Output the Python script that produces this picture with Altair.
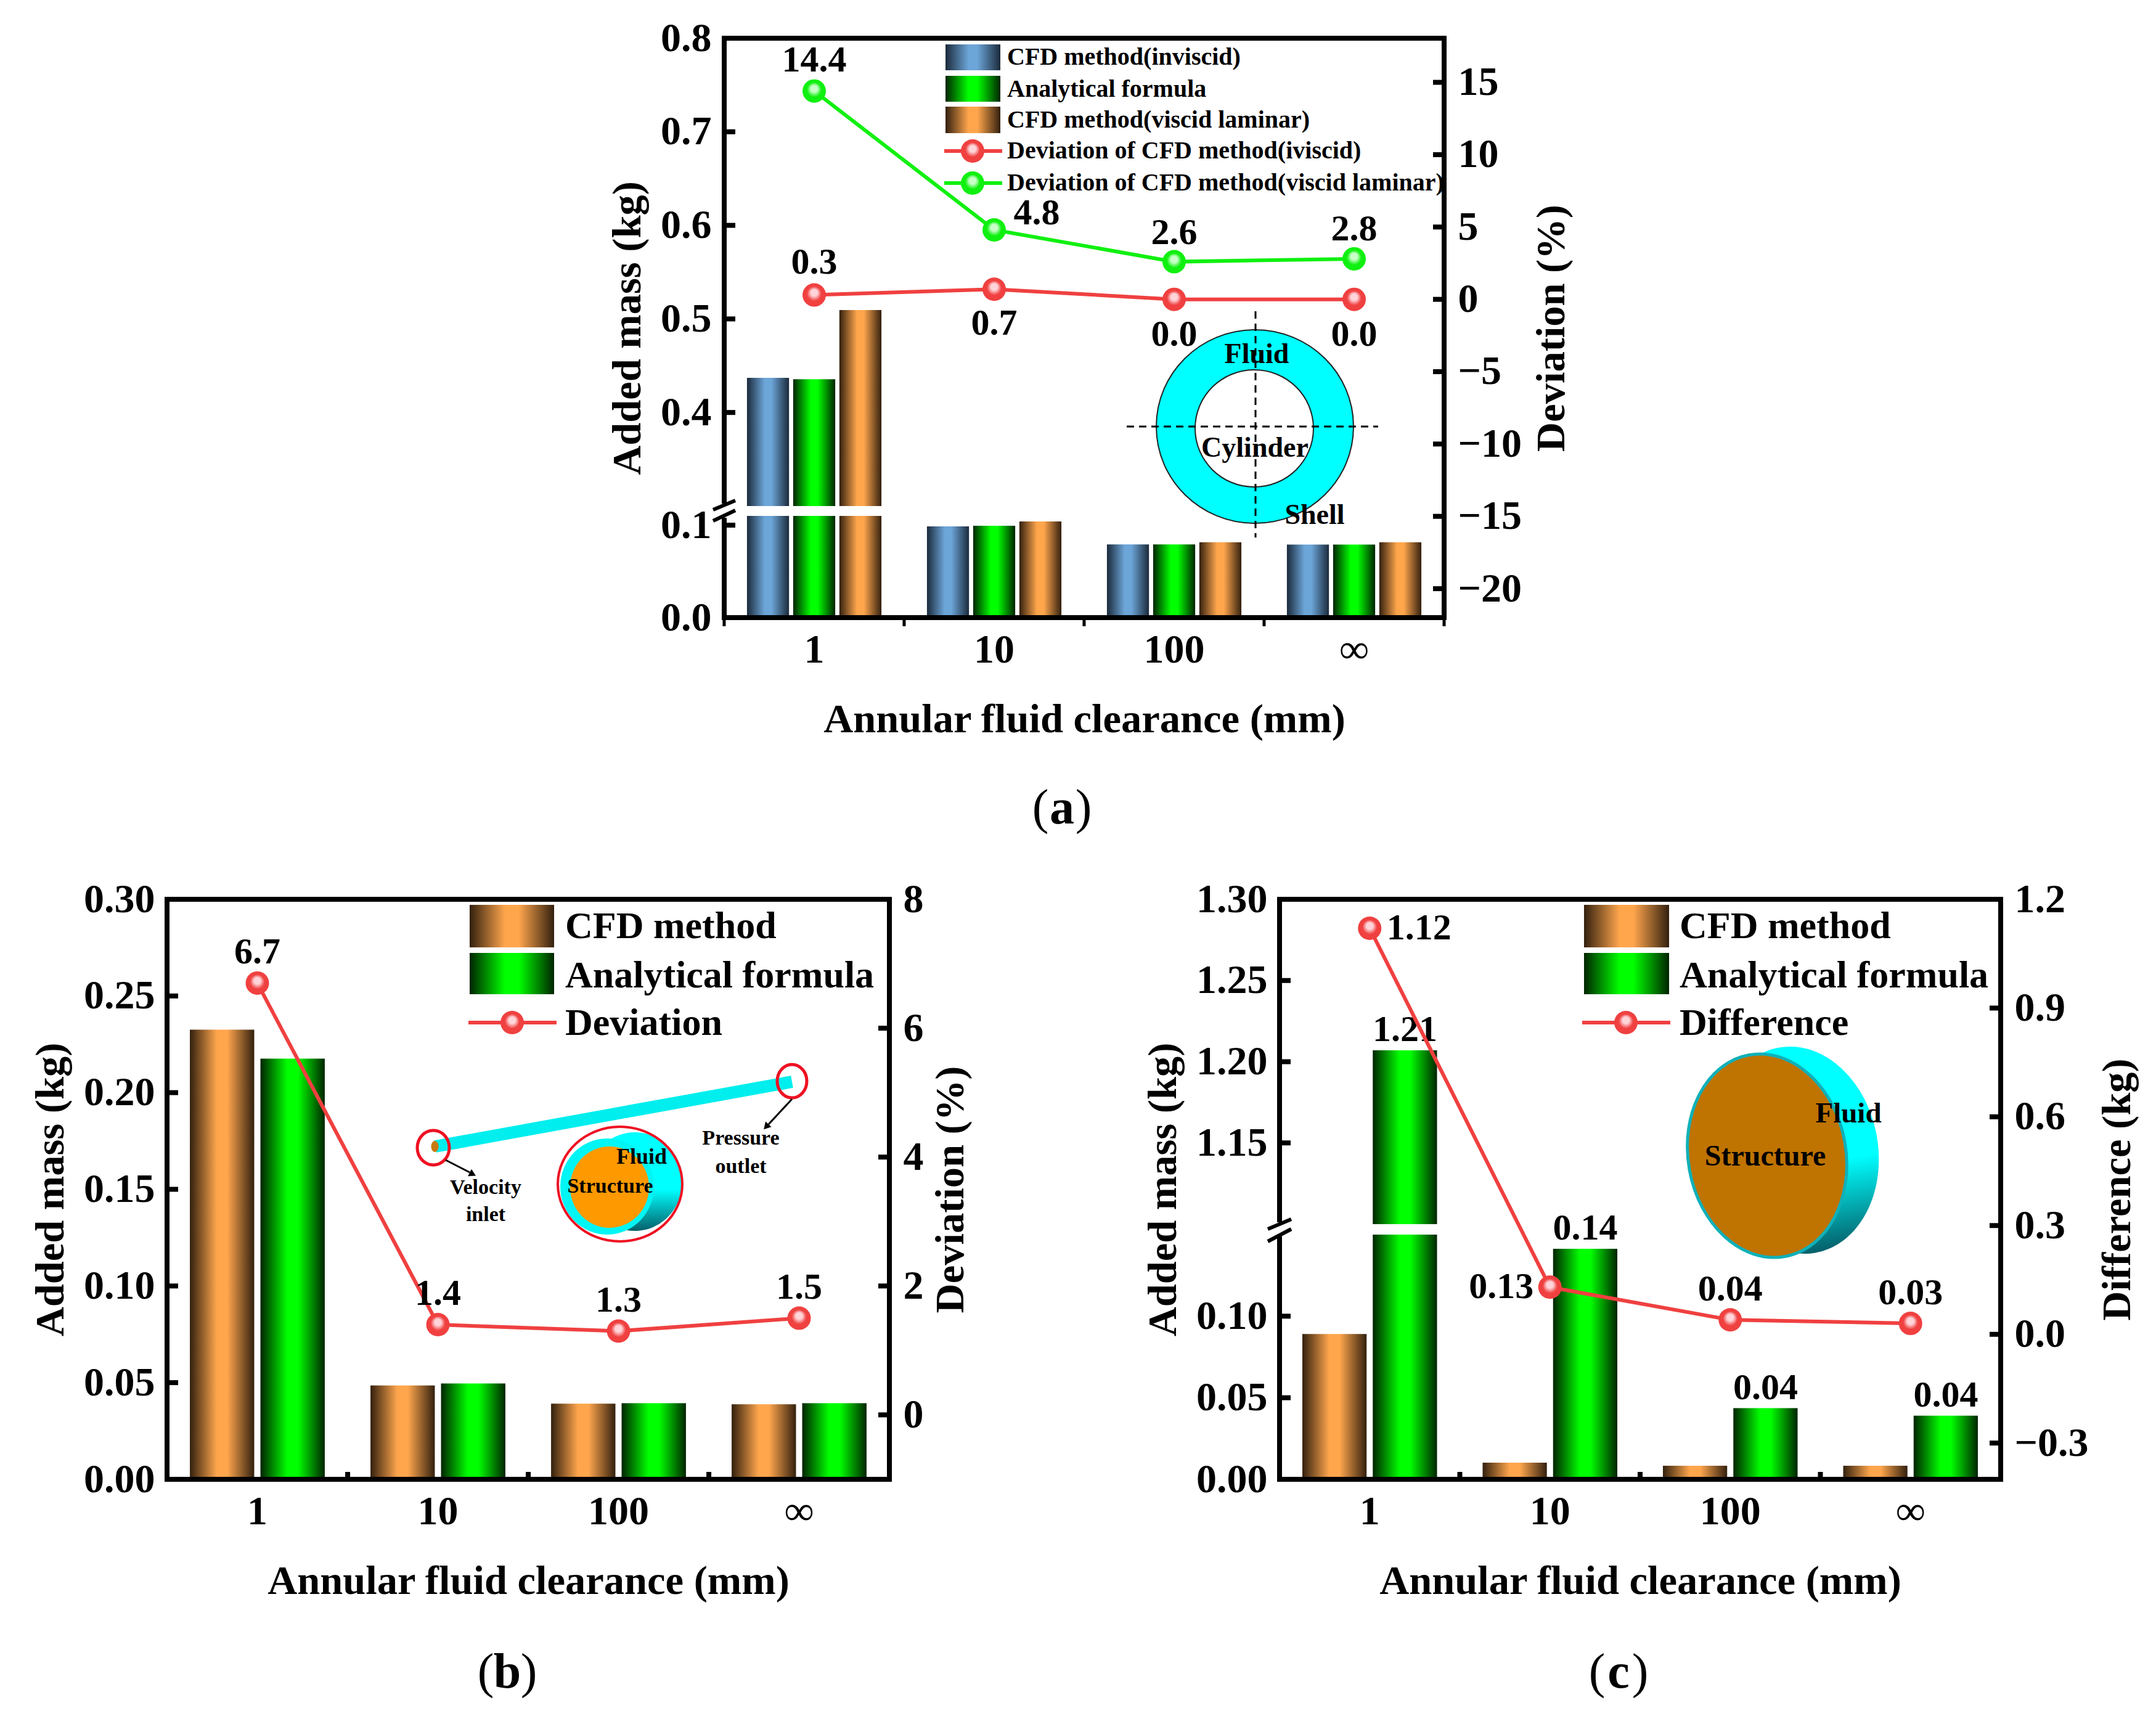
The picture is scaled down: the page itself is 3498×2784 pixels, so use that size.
import altair as alt
import pandas as pd

# ---------- data ----------
CATS = ["1", "10", "100", "∞"]
A_INVISCID = [0.437, 0.0987, 0.0792, 0.079]
A_ANALYTIC = [0.4355, 0.0993, 0.0792, 0.079]
A_VISCOUS = [0.5095, 0.104, 0.0815, 0.0815]
A_DEV_INV = [0.3, 0.7, 0.0, 0.0]
A_DEV_VIS = [14.4, 4.8, 2.6, 2.8]
B_CFD = [0.2326, 0.0485, 0.0391, 0.0388]
B_ANALYTIC = [0.2176, 0.0496, 0.0394, 0.0394]
B_DEV = [6.7, 1.4, 1.3, 1.5]
C_CFD = [0.0891, 0.0102, 0.0083, 0.0083]
C_ANALYTIC = [1.207, 0.1413, 0.0436, 0.039]
C_DIFF = [1.12, 0.13, 0.04, 0.03]
C_BAR_LABELS = ["1.21", "0.14", "0.04", "0.04"]

FONT = "Liberation Serif"
XTITLE = "Annular fluid clearance (mm)"
RED = "#F04040"
GREEN = "#10F010"
ONE = [{"k": 0}]


def hgrad(dark, peak):
    return {"gradient": "linear", "x1": 0, "x2": 1, "y1": 0, "y2": 0,
            "stops": [{"offset": 0, "color": dark}, {"offset": 0.42, "color": peak},
                      {"offset": 0.58, "color": peak}, {"offset": 1, "color": dark}]}


BLUE_G = hgrad("#1B2A3B", "#6CA5D8")
GREEN_G = hgrad("#002400", "#00FF00")
ORANGE_G = hgrad("#33200E", "#FFA64D")


def ball(light, mid):
    return {"gradient": "radial", "x1": 0.5, "y1": 0.36, "x2": 0.5, "y2": 0.5, "r1": 0, "r2": 0.5,
            "stops": [{"offset": 0, "color": light}, {"offset": 0.28, "color": light},
                      {"offset": 0.62, "color": mid}, {"offset": 1, "color": mid}]}


RED_B = ball("#FFD5DA", RED)
GREEN_B = ball("#C8FFC8", GREEN)
DISC_G = {"gradient": "linear", "x1": 0, "x2": 0, "y1": 0, "y2": 1,
          "stops": [{"offset": 0, "color": "#00FFFF"}, {"offset": 0.58, "color": "#00FFFF"},
                    {"offset": 1, "color": "#05606A"}]}


def ellipse_symbol(rx, ry):
    s = max(rx, ry)
    a, b = rx / s, ry / s
    path = f"M{-a:.4f},0A{a:.4f},{b:.4f} 0 1 1 {a:.4f},0A{a:.4f},{b:.4f} 0 1 1 {-a:.4f},0Z"
    return path, (2 * s) ** 2


class P:
    """Helpers for decorations inside one panel, given in page pixels."""

    def __init__(self, ox, oy):
        self.ox, self.oy = ox, oy

    def text(self, s, x, y, size, weight="bold", color="black"):
        return alt.Chart(alt.Data(values=ONE)).mark_text(
            text=s, font=FONT, fontSize=size, fontWeight=weight, color=color,
            align="center", baseline="middle"
        ).encode(x=alt.value(x - self.ox), y=alt.value(y - self.oy))

    def ltext(self, s, x, y, size):
        return alt.Chart(alt.Data(values=ONE)).mark_text(
            text=s, font=FONT, fontSize=size, fontWeight="bold", color="black",
            align="left", baseline="middle"
        ).encode(x=alt.value(x - self.ox), y=alt.value(y - self.oy))

    def rect(self, x0, x1, y0, y1, fill):
        return alt.Chart(alt.Data(values=ONE)).mark_rect(fill=fill, stroke=None).encode(
            x=alt.value(x0 - self.ox), x2=alt.value(x1 - self.ox),
            y=alt.value(y0 - self.oy), y2=alt.value(y1 - self.oy))

    def seg(self, x0, y0, x1, y1, color="black", width=3, dash=None, cap="butt"):
        kw = {"strokeDash": dash} if dash else {}
        return alt.Chart(alt.Data(values=ONE)).mark_rule(
            color=color, strokeWidth=width, strokeCap=cap, **kw).encode(
            x=alt.value(x0 - self.ox), x2=alt.value(x1 - self.ox),
            y=alt.value(y0 - self.oy), y2=alt.value(y1 - self.oy))

    def ellipse(self, cx, cy, rx, ry, fill=None, stroke=None, sw=0, angle=0):
        path, size = ellipse_symbol(rx, ry)
        kw = {}
        if fill is not None:
            kw["fill"] = fill
        if stroke is not None:
            kw["stroke"] = stroke
            kw["strokeWidth"] = sw
        return alt.Chart(alt.Data(values=ONE)).mark_point(
            shape=path, size=size, filled=fill is not None, opacity=1, angle=angle, **kw
        ).encode(x=alt.value(cx - self.ox), y=alt.value(cy - self.oy))

    def marker(self, cx, cy, fill, size=1444):
        return alt.Chart(alt.Data(values=ONE)).mark_point(
            shape="circle", size=size, filled=True, fill=fill, opacity=1, stroke=None
        ).encode(x=alt.value(cx - self.ox), y=alt.value(cy - self.oy))

    def head(self, cx, cy, angle, size=170):
        return alt.Chart(alt.Data(values=ONE)).mark_point(
            shape="triangle-up", size=size, filled=True, fill="black", opacity=1, angle=angle, stroke=None
        ).encode(x=alt.value(cx - self.ox), y=alt.value(cy - self.oy))

    def caption(self, letter, cx, cy):
        return [self.text("(", cx - 35, cy, 80, "normal"), self.text(letter, cx, cy, 80, "bold"),
                self.text(")", cx + 35, cy, 80, "normal")]


def xenc(**kw):
    return alt.X("cat:N", scale=alt.Scale(domain=CATS, paddingInner=0.253, paddingOuter=0.1265),
                 title=XTITLE,
                 axis=alt.Axis(labelAngle=0, domain=False, ticks=False, labelPadding=20,
                               titleBaseline="middle", titleY=165, titleAlign="center"), **kw)


def bars(values, series, order, grad, yscale, yaxis, padding):
    df = pd.DataFrame({"cat": CATS, "v": values, "s": series})
    return alt.Chart(df).mark_bar(fill=grad, stroke=None).encode(
        x=xenc(),
        xOffset=alt.XOffset("s:N", scale=alt.Scale(domain=order, paddingInner=padding)),
        y=alt.Y("v:Q", scale=yscale, axis=yaxis, stack=None,
                title=None if yaxis is None else "Added mass (kg)"),
    )


def inner_ticks(vals, scale, x0, x1):
    return alt.Chart(pd.DataFrame({"v": vals})).mark_rule(color="black", strokeWidth=8).encode(
        y=alt.Y("v:Q", scale=scale, axis=None), x=alt.value(x0), x2=alt.value(x1))


def gap_patch(scale, lo, hi, x0, x1):
    return alt.Chart(pd.DataFrame({"lo": [lo], "hi": [hi]})).mark_rect(fill="white", stroke=None).encode(
        y=alt.Y("lo:Q", scale=scale, axis=None), y2="hi:Q", x=alt.value(x0), x2=alt.value(x1))


def dev_line(values, color, fill, scale, axis=None, title=None):
    df = pd.DataFrame({"cat": CATS, "v": values})
    line = alt.Chart(df).mark_line(color=color, strokeWidth=6).encode(
        x=xenc(), y=alt.Y("v:Q", scale=scale, axis=axis, title=title))
    pts = alt.Chart(df).mark_point(shape="circle", size=1444, filled=True, fill=fill, opacity=1, stroke=None).encode(
        x=xenc(), y=alt.Y("v:Q", scale=scale, axis=None))
    return [line, pts]


def point_labels(values, labels, scale, offsets, size=60):
    out = []
    for i, (v, lab, (dx, dy)) in enumerate(zip(values, labels, offsets)):
        df = pd.DataFrame({"cat": [CATS[i]], "v": [v], "t": [lab]})
        out.append(alt.Chart(df).mark_text(
            font=FONT, fontSize=size, fontWeight="bold", color="black", dx=dx, dy=dy,
            align="center", baseline="middle"
        ).encode(x=xenc(), y=alt.Y("v:Q", scale=scale, axis=None), text="t:N"))
    return out


def edge_marks(cats, y0, y1, width):
    # boundary between two categories: start of the band less half the gap between bands
    return alt.Chart(pd.DataFrame({"cat": cats})).mark_rule(color="black", strokeWidth=width).encode(
        x=xenc(bandPosition=0), xOffset=alt.value(-37), y=alt.value(y0), y2=alt.value(y1))


def yaxis_left(vals, fmt, tx, pad=20):
    return alt.Axis(values=vals, format=fmt, ticks=False, domain=False, grid=False, labelPadding=pad,
                    titleAngle=270, titleX=tx, titleBaseline="middle", titleAlign="center")


def yaxis_right(vals, fmt, tx, title):
    return alt.Axis(orient="right", values=vals, format=fmt, ticks=False, domain=False, grid=False,
                    labelPadding=22, titleAngle=270, titleX=tx, titleBaseline="middle", titleAlign="center",
                    title=title)


def finish(parts, w, h):
    return alt.layer(*parts).resolve_scale(y="independent").properties(width=w, height=h)


# ---------- panel a ----------
OXA, OYA, WA, HA = 1175, 62, 1168, 940
pa = P(OXA, OYA)
ya = alt.Scale(domain=[0, 0.11, 0.3, 0.8], range=[HA, 775, 759, 0], nice=False, zero=False)
ra = alt.Scale(domain=[-22.0, 18.05], range=[HA, 0], nice=False, zero=False)
oa = ["inv", "ana", "vis"]
a_parts = [
    bars(A_INVISCID, "inv", oa, BLUE_G, ya, yaxis_left([0, 0.1, 0.4, 0.5, 0.6, 0.7, 0.8], ".1f", -157, 21), 0.09),
    bars(A_ANALYTIC, "ana", oa, GREEN_G, ya, None, 0.09),
    bars(A_VISCOUS, "vis", oa, ORANGE_G, ya, None, 0.09),
    gap_patch(ya, 0.11, 0.3, 10, WA - 10),
    pa.seg(OXA, OYA + HA, OXA + WA, OYA + HA, width=8),
    edge_marks(CATS, HA, HA + 14, 5),
    pa.seg(OXA + WA, OYA + HA, OXA + WA, OYA + HA + 14, width=5),
    inner_ticks([0.1, 0.4, 0.5, 0.6, 0.7], ya, 0, 18),
    *dev_line(A_DEV_INV, RED, RED_B, ra, yaxis_right([-20, -15, -10, -5, 0, 5, 10, 15], "d", 174, "Deviation (%)")),
    *dev_line(A_DEV_VIS, GREEN, GREEN_B, ra),
    inner_ticks([-20, -15, -10, -5, 0, 5, 10, 15], ra, WA - 18, WA),
    *point_labels(A_DEV_INV, ["0.3", "0.7", "0.0", "0.0"], ra, [(0, -53), (0, 56), (0, 57), (0, 57)]),
    *point_labels(A_DEV_VIS, ["14.4", "4.8", "2.6", "2.8"], ra, [(0, -50), (69, -27), (0, -47), (0, -48)]),
    pa.rect(OXA - 7, OXA + 7, 817, 840, "white"),
    pa.seg(1157, 827, 1193, 812, width=6),
    pa.seg(1157, 845, 1193, 828, width=6),
    pa.ellipse(2036, 692, 160, 157, fill="#00FFFF", stroke="#222222", sw=2),
    pa.ellipse(2035, 695, 96, 95, fill="white", stroke="#222222", sw=2),
    pa.seg(2037, 505, 2037, 872, width=3, dash=[12, 8]),
    pa.seg(1828, 692, 2236, 692, width=3, dash=[12, 8]),
    pa.text("Fluid", 2039, 575, 46),
    pa.text("Cylinder", 2036, 727, 46),
    pa.text("Shell", 2133, 836, 46),
    pa.rect(1534, 1623, 72, 114, BLUE_G),
    pa.rect(1534, 1623, 123, 165, GREEN_G),
    pa.rect(1534, 1623, 173, 216, ORANGE_G),
    pa.seg(1532, 245, 1626, 245, color=RED, width=6),
    pa.marker(1578, 245, RED_B),
    pa.seg(1532, 297, 1626, 297, color=GREEN, width=6),
    pa.marker(1578, 297, GREEN_B),
    pa.ltext("CFD method(inviscid)", 1634, 93, 40),
    pa.ltext("Analytical formula", 1634, 145, 40),
    pa.ltext("CFD method(viscid laminar)", 1634, 195, 40),
    pa.ltext("Deviation of CFD method(iviscid)", 1634, 245, 40),
    pa.ltext("Deviation of CFD method(viscid laminar)", 1634, 297, 40),
    *pa.caption("a", 1723, 1312),
]
chart_a = finish(a_parts, WA, HA)

# ---------- panel b ----------
OXB, OYB, WB, HB = 271, 1459, 1172, 941
pb = P(OXB, OYB)
yb = alt.Scale(domain=[0, 0.30], range=[HB, 0], nice=False, zero=False)
rb = alt.Scale(domain=[-1, 8], range=[HB, 0], nice=False, zero=False)
ob = ["cfd", "ana"]
bvals = [0, 0.05, 0.10, 0.15, 0.20, 0.25, 0.30]
b_parts = [
    bars(B_CFD, "cfd", ob, ORANGE_G, yb, yaxis_left(bvals, ".2f", -189), 0.088),
    bars(B_ANALYTIC, "ana", ob, GREEN_G, yb, None, 0.088),
    pb.seg(OXB, OYB + HB, OXB + WB, OYB + HB, width=8),
    edge_marks(CATS[1:], HB - 12, HB, 8),
    inner_ticks(bvals[1:-1], yb, 0, 18),
    *dev_line(B_DEV, RED, RED_B, rb, yaxis_right([0, 2, 4, 6, 8], "d", 99, "Deviation (%)")),
    inner_ticks([0, 2, 4, 6], rb, WB - 18, WB),
    *point_labels(B_DEV, ["6.7", "1.4", "1.3", "1.5"], rb, [(0, -50)] * 4),
    pb.rect(762, 899, 1468, 1537, ORANGE_G),
    pb.rect(762, 899, 1546, 1613, GREEN_G),
    pb.seg(760, 1659, 903, 1659, color=RED, width=6),
    pb.marker(831, 1659, RED_B),
    pb.ltext("CFD method", 917, 1503, 62),
    pb.ltext("Analytical formula", 917, 1583, 62),
    pb.ltext("Deviation", 917, 1660, 62),
    pb.seg(706, 1860, 1285, 1755, color="#00EEEE", width=20),
    pb.ellipse(705.5, 1860, 6, 9, fill="#C87A10"),
    pb.ellipse(703, 1862, 26, 28, stroke="#EE1122", sw=5),
    pb.ellipse(1285, 1754, 24, 27, stroke="#EE1122", sw=5),
    pb.seg(723, 1882, 762, 1902, width=3),
    pb.head(767, 1905, 117),
    pb.seg(1285, 1783, 1247, 1824, width=3),
    pb.head(1243, 1828, 223),
    pb.ellipse(1030, 1917, 77, 80, fill=DISC_G),
    pb.ellipse(985, 1925, 76, 78, fill="#00F5F5"),
    pb.ellipse(989, 1926, 64, 66, fill="#FF9900"),
    pb.ellipse(1006, 1921, 101, 93, stroke="#EE1122", sw=4),
    pb.text("Fluid", 1041, 1877, 36),
    pb.text("Structure", 990, 1925, 34),
    pb.text("Velocity", 788, 1927, 34),
    pb.text("inlet", 788, 1971, 34),
    pb.text("Pressure", 1202, 1847, 34),
    pb.text("outlet", 1202, 1893, 34),
    *pb.caption("b", 823, 2714),
]
chart_b = finish(b_parts, WB, HB)

# ---------- panel c ----------
OXC, OYC, WC, HC = 2076, 1459, 1170, 941
pc = P(OXC, OYC)
yc = alt.Scale(domain=[0, 0.15, 1.10, 1.30], range=[HC, 544, 527, 0], nice=False, zero=False)
rc = alt.Scale(domain=[-0.4, 1.2], range=[HC, 0], nice=False, zero=False)
cvals = [0, 0.05, 0.10, 1.15, 1.20, 1.25, 1.30]
bar_lab = alt.Chart(pd.DataFrame({"cat": CATS, "v": C_ANALYTIC, "s": "ana", "t": C_BAR_LABELS})).mark_text(
    font=FONT, fontSize=60, fontWeight="bold", color="black", dy=-33, align="center", baseline="middle"
).encode(x=xenc(),
         xOffset=alt.XOffset("s:N", scale=alt.Scale(domain=ob, paddingInner=0.088)),
         y=alt.Y("v:Q", scale=yc, axis=None), text="t:N")
c_parts = [
    bars(C_CFD, "cfd", ob, ORANGE_G, yc, yaxis_left(cvals, ".2f", -189), 0.088),
    bars(C_ANALYTIC, "ana", ob, GREEN_G, yc, None, 0.088),
    gap_patch(yc, 0.15, 1.10, 10, WC - 10),
    pc.seg(OXC, OYC + HC, OXC + WC, OYC + HC, width=8),
    edge_marks(CATS[1:], HC - 12, HC, 8),
    inner_ticks(cvals[1:-1], yc, 0, 18),
    bar_lab,
    *dev_line(C_DIFF, RED, RED_B, rc, yaxis_right([-0.3, 0, 0.3, 0.6, 0.9, 1.2], ".1f", 189, "Difference (kg)")),
    inner_ticks([-0.3, 0, 0.3, 0.6, 0.9], rc, WC - 18, WC),
    *point_labels(C_DIFF, ["1.12", "0.13", "0.04", "0.03"], rc, [(80, 0), (-79, 0), (0, -49), (0, -49)]),
    pc.rect(OXC - 7, OXC + 7, 1983, 2006, "white"),
    pc.seg(2057, 1994, 2095, 1978, width=6),
    pc.seg(2057, 2014, 2095, 1994, width=6),
    pc.rect(2570, 2708, 1468, 1537, ORANGE_G),
    pc.rect(2570, 2708, 1546, 1613, GREEN_G),
    pc.seg(2567, 1659, 2710, 1659, color=RED, width=6),
    pc.marker(2638, 1659, RED_B),
    pc.ltext("CFD method", 2725, 1503, 62),
    pc.ltext("Analytical formula", 2725, 1583, 62),
    pc.ltext("Difference", 2725, 1660, 62),
    pc.ellipse(2916, 1866, 131, 169, fill=DISC_G, angle=350),
    pc.ellipse(2867, 1875, 128, 166, fill="#BF7300", stroke="#10B0B8", sw=5, angle=350),
    pc.text("Structure", 2864, 1877, 48),
    pc.text("Fluid", 2999, 1807, 47),
    *pc.caption("c", 2626, 2714),
]
chart_c = finish(c_parts, WC, HC)

# ---------- page ----------
spacer = alt.Chart(alt.Data(values=ONE)).mark_rule(opacity=0).encode(x=alt.value(0)).properties(
    width=OXA - OXB, height=HA, view=alt.ViewConfig(stroke=None))
top = alt.hconcat(spacer, chart_a, spacing=0, bounds="flush").resolve_scale(xOffset="independent")
bottom = alt.hconcat(chart_b, chart_c, spacing=OXC - OXB - WB, bounds="flush").resolve_scale(xOffset="independent")
chart = alt.vconcat(top, bottom, spacing=OYB - OYA, bounds="flush").resolve_scale(xOffset="independent").properties(
    padding={"left": 37, "top": 17, "right": 0, "bottom": 0}, background="white"
).configure_view(stroke="black", strokeWidth=8).configure_axis(
    labelFont=FONT, titleFont=FONT, labelFontWeight="bold", titleFontWeight="bold",
    labelFontSize=66, titleFontSize=66.5, labelColor="black", titleColor="black"
)

chart.save("out.html", embed_options={"renderer": "svg", "actions": False})
